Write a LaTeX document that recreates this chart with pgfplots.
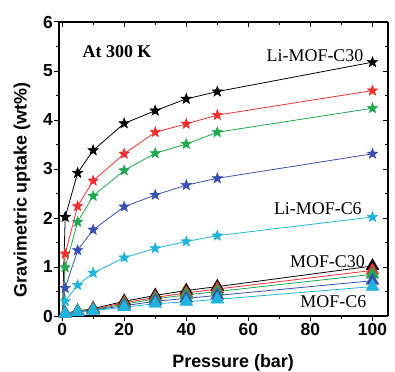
\documentclass[border=0pt]{standalone}
\usepackage{fontspec}
\setmainfont{Liberation Serif}
\setsansfont{Liberation Sans}
\usepackage{pgfplots}
\pgfplotsset{compat=1.18}
\definecolor{cred}{HTML}{F03030}
\definecolor{cgreen}{HTML}{20A850}
\definecolor{cblue}{HTML}{3A50B0}
\definecolor{ccyan}{HTML}{20B4DA}
\pgfdeclareplotmark{fstar}{%
 \pgfpathmoveto{\pgfpointpolar{90}{\pgfplotmarksize}}%
 \pgfpathlineto{\pgfpointpolar{126}{0.42\pgfplotmarksize}}%
 \pgfpathlineto{\pgfpointpolar{162}{\pgfplotmarksize}}%
 \pgfpathlineto{\pgfpointpolar{198}{0.42\pgfplotmarksize}}%
 \pgfpathlineto{\pgfpointpolar{234}{\pgfplotmarksize}}%
 \pgfpathlineto{\pgfpointpolar{270}{0.42\pgfplotmarksize}}%
 \pgfpathlineto{\pgfpointpolar{306}{\pgfplotmarksize}}%
 \pgfpathlineto{\pgfpointpolar{342}{0.42\pgfplotmarksize}}%
 \pgfpathlineto{\pgfpointpolar{18}{\pgfplotmarksize}}%
 \pgfpathlineto{\pgfpointpolar{54}{0.42\pgfplotmarksize}}%
 \pgfpathclose
 \pgfusepathqfillstroke}
\pgfplotsset{
 starline/.style={line width=0.8pt, mark=fstar, mark size=5.5pt, mark options={solid, line width=0.5pt}, mark indices={2,3,4,5,6,7,8,9}},
 triline/.style={line width=0.8pt, mark=triangle*, mark size=7.5pt, mark options={solid, line width=0.4pt}},
}
\begin{document}
\begin{tikzpicture}
\begin{axis}[name=ax, at={(0,0)}, anchor=south west, scale only axis, width=329bp, height=294bp,
  xmin=-1, xmax=105, ymin=0, ymax=6, clip=false,
  axis x line*=bottom, axis y line*=left, tick align=outside,
  xtick={0,20,...,100}, minor xtick={10,30,...,90},
  ytick={0,1,...,6}, minor ytick={0.5,1.5,...,5.5},
  major tick length=5bp, minor tick length=3bp,
  every tick/.style={line width=1pt, black},
  axis line style={line width=1.3pt},
  ticklabel style={font=\sffamily\bfseries\fontsize{17.5}{17.5}\selectfont},
  /pgf/number format/assume math mode=true,
  yticklabel style={inner sep=1pt},
  xticklabel style={inner sep=2pt},
  ]
\addplot[starline, color=black] coordinates {(0.1,0.05) (1,2.02) (5,2.92) (10,3.38) (20,3.93) (30,4.19) (40,4.43) (50,4.58) (100,5.18)};
\addplot[starline, color=cred] coordinates {(0.1,0.04) (1,1.27) (5,2.24) (10,2.76) (20,3.31) (30,3.75) (40,3.92) (50,4.10) (100,4.60)};
\addplot[starline, color=cgreen] coordinates {(0.1,0.03) (1,0.99) (5,1.92) (10,2.45) (20,2.97) (30,3.32) (40,3.51) (50,3.75) (100,4.24)};
\addplot[starline, color=cblue] coordinates {(0.1,0.02) (1,0.57) (5,1.34) (10,1.76) (20,2.23) (30,2.47) (40,2.67) (50,2.81) (100,3.31)};
\addplot[starline, color=ccyan] coordinates {(0.1,0.01) (1,0.30) (5,0.63) (10,0.88) (20,1.19) (30,1.38) (40,1.52) (50,1.64) (100,2.02)};
\addplot[triline, color=black] coordinates {(1,0.06) (5,0.10) (10,0.15) (20,0.30) (30,0.42) (40,0.52) (50,0.60) (100,1.02)};
\addplot[triline, color=cred] coordinates {(1,0.06) (5,0.09) (10,0.14) (20,0.27) (30,0.38) (40,0.47) (50,0.55) (100,0.93)};
\addplot[triline, color=cgreen] coordinates {(1,0.05) (5,0.09) (10,0.13) (20,0.24) (30,0.35) (40,0.43) (50,0.50) (100,0.85)};
\addplot[triline, color=cblue] coordinates {(1,0.05) (5,0.08) (10,0.12) (20,0.21) (30,0.30) (40,0.36) (50,0.42) (100,0.72)};
\addplot[triline, color=ccyan] coordinates {(1,0.05) (5,0.08) (10,0.11) (20,0.18) (30,0.25) (40,0.29) (50,0.34) (100,0.60)};
\node[font=\rmfamily\bfseries\fontsize{18}{18}\selectfont] at (axis cs:17.7,5.39) {At 300 K};
\node[font=\rmfamily\fontsize{18}{18}\selectfont] at (axis cs:81.5,5.31) {Li-MOF-C30};
\node[font=\rmfamily\fontsize{18}{18}\selectfont] at (axis cs:82.4,2.20) {Li-MOF-C6};
\node[font=\rmfamily\fontsize{18}{18}\selectfont] at (axis cs:85.5,1.10) {MOF-C30};
\node[font=\rmfamily\fontsize{18}{18}\selectfont] at (axis cs:87.4,0.29) {MOF-C6};
\node[font=\sffamily\bfseries\fontsize{18}{18}\selectfont] at (axis cs:55.1,-0.96) {Pressure (bar)};
\node[rotate=90, font=\sffamily\bfseries\fontsize{18}{18}\selectfont] at (axis cs:-12.9,2.57) {Gravimetric uptake (wt\%)};
\end{axis}
\begin{axis}[at={(0,0)}, anchor=south west, scale only axis, width=329bp, height=294bp,
  xmin=-1, xmax=105, ymin=0, ymax=6,
  axis x line*=top, axis y line*=right, tick align=inside,
  xtick={0,20,...,100}, minor xtick={10,30,...,90},
  ytick={0,1,...,6}, minor ytick={0.5,1.5,...,5.5},
  xticklabels={}, yticklabels={},
  major tick length=5bp, minor tick length=3bp,
  every tick/.style={line width=1pt, black},
  axis line style={line width=1.3pt},
  ]
\addplot[draw=none] coordinates {(0,0)};
\end{axis}
\pgfresetboundingbox
\path[use as bounding box] ([shift={(-59bp,-56bp)}]ax.south west) rectangle ([shift={(7bp,22bp)}]ax.north east);
\end{tikzpicture}
\end{document}
